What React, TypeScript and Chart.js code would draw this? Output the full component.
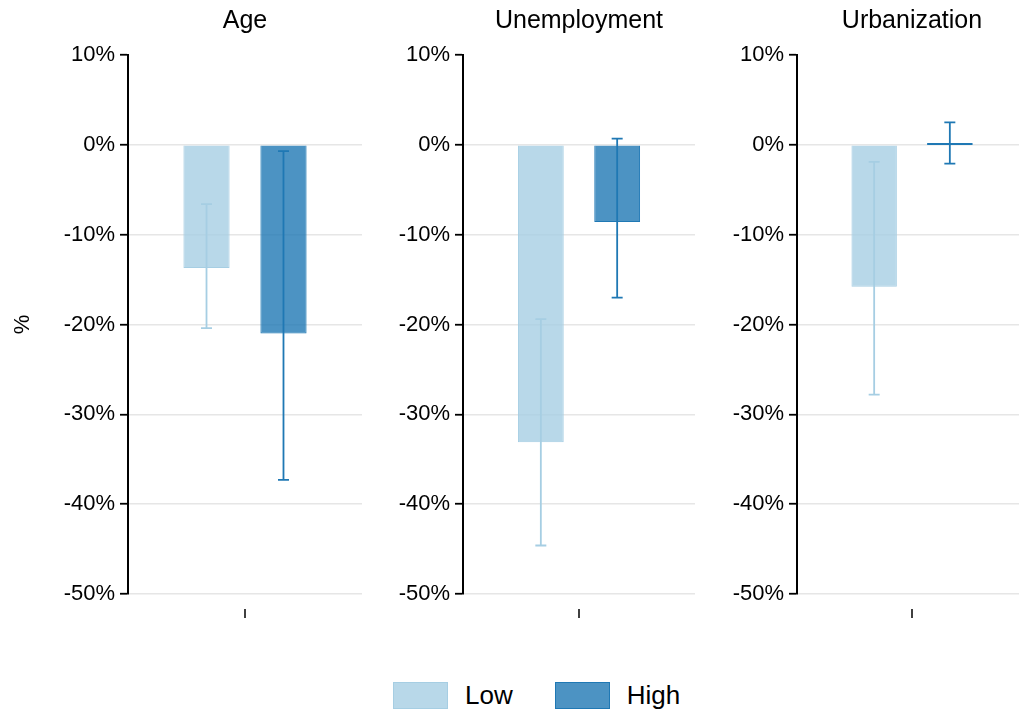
import React, { useEffect, useRef } from 'react';
import { Chart, registerables } from 'chart.js';

Chart.register(...registerables);

const panels = ['Age', 'Unemployment', 'Urbanization'];
const seriesNames = ['Low', 'High'];
const lowValues = [-13.7, -33.1, -15.8];
const highValues = [-21.0, -8.6, 0.1];
const lowErrLower = [-20.4, -44.6, -27.8];
const lowErrUpper = [-6.6, -19.4, -1.9];
const highErrLower = [-37.3, -17.0, -2.1];
const highErrUpper = [-0.7, 0.7, 2.5];
const yMin = -50;
const yMax = 10;
const yStep = 10;

const fills = ['rgba(166,206,227,0.8)', 'rgba(31,120,180,0.8)'];
const lines = ['#a6cee3', '#1f78b4'];
const FONT = '"Liberation Sans", Arial, sans-serif';

const CANVAS_H = 640;
const PLOT_BOTTOM = 594;
const AXIS_W = 128;
const panelLefts = [0, 335, 669];
const panelWidths = [362, 360, 358];

const errorBarPlugin = {
  id: 'errorBars',
  afterDatasetsDraw(chart: any) {
    const ctx = chart.ctx;
    const yScale = chart.scales.y;
    chart.data.datasets.forEach((ds: any, i: number) => {
      const meta = chart.getDatasetMeta(i);
      meta.data.forEach((el: any, j: number) => {
        if (Math.abs(el.base - el.y) < 3) {
          ctx.save();
          ctx.strokeStyle = ds.errColor;
          ctx.lineWidth = 2;
          ctx.beginPath();
          ctx.moveTo(el.x - el.width / 2, el.y);
          ctx.lineTo(el.x + el.width / 2, el.y);
          ctx.stroke();
          ctx.restore();
        }
        const lo = yScale.getPixelForValue(ds.errLower[j]);
        const hi = yScale.getPixelForValue(ds.errUpper[j]);
        ctx.save();
        ctx.strokeStyle = ds.errColor;
        ctx.lineWidth = 1.8;
        ctx.beginPath();
        ctx.moveTo(el.x, lo);
        ctx.lineTo(el.x, hi);
        ctx.moveTo(el.x - 5.5, lo);
        ctx.lineTo(el.x + 5.5, lo);
        ctx.moveTo(el.x - 5.5, hi);
        ctx.lineTo(el.x + 5.5, hi);
        ctx.stroke();
        ctx.restore();
      });
    });
  },
};

const xTickPlugin = {
  id: 'xTick',
  afterDraw(chart: any) {
    const ctx = chart.ctx;
    const x = chart.scales.x.getPixelForValue(0);
    const b = chart.chartArea.bottom;
    ctx.save();
    ctx.strokeStyle = '#000';
    ctx.lineWidth = 1.5;
    ctx.beginPath();
    ctx.moveTo(x, b + 15);
    ctx.lineTo(x, b + 24);
    ctx.stroke();
    ctx.restore();
  },
};

function Panel({ idx }: { idx: number }) {
  const ref = useRef<HTMLCanvasElement>(null);
  useEffect(() => {
    if (!ref.current) return;
    const chart = new Chart(ref.current, {
      type: 'bar',
      data: {
        labels: [''],
        datasets: [
          {
            label: seriesNames[0],
            data: [lowValues[idx]],
            backgroundColor: fills[0],
            borderColor: lines[0],
            borderWidth: 1,
            errLower: [lowErrLower[idx]],
            errUpper: [lowErrUpper[idx]],
            errColor: lines[0],
          } as any,
          {
            label: seriesNames[1],
            data: [highValues[idx]],
            backgroundColor: fills[1],
            borderColor: lines[1],
            borderWidth: 1,
            errLower: [highErrLower[idx]],
            errUpper: [highErrUpper[idx]],
            errColor: lines[1],
          } as any,
        ],
      },
      options: {
        responsive: false,
        animation: false,
        devicePixelRatio: 1,
        categoryPercentage: 0.658,
        barPercentage: 0.6,
        layout: { padding: { bottom: CANVAS_H - PLOT_BOTTOM, right: 0 } },
        font: { family: FONT },
        plugins: {
          legend: { display: false },
          tooltip: { enabled: false },
          title: {
            display: true,
            text: panels[idx],
            color: '#000',
            fullSize: false,
            font: { family: FONT, size: 25, weight: 'normal' },
            padding: { top: 6, bottom: 19 },
          },
        },
        scales: {
          x: { display: false },
          y: {
            min: yMin,
            max: yMax,
            afterFit: (s: any) => {
              s.width = AXIS_W;
            },
            border: { display: true, color: '#000', width: 2 },
            grid: {
              color: (c: any) => (c.tick && c.tick.value === yMax ? 'rgba(0,0,0,0)' : '#e6e6e6'),
              lineWidth: 1.5,
              tickColor: '#000',
              tickLength: 8,
              tickWidth: 1.8,
            },
            ticks: {
              stepSize: yStep,
              color: '#000',
              padding: 5,
              font: { family: FONT, size: 22 },
              callback: (v: any) => v + '%',
            },
            title: {
              display: idx === 0,
              text: '%',
              color: '#000',
              font: { family: FONT, size: 22 },
              padding: { top: 10, bottom: 0 },
            },
          },
        },
      } as any,
      plugins: [errorBarPlugin, xTickPlugin],
    });
    return () => chart.destroy();
  }, [idx]);
  return (
    <canvas
      ref={ref}
      width={panelWidths[idx]}
      height={CANVAS_H}
      style={{
        position: 'absolute',
        left: panelLefts[idx],
        top: 0,
        width: panelWidths[idx],
        height: CANVAS_H,
      }}
    />
  );
}

export default function App() {
  return (
    <div
      style={{
        position: 'absolute',
        left: 0,
        top: 0,
        width: 1019,
        height: 711,
        overflow: 'hidden',
        background: '#fff',
      }}
    >
      {panels.map((_, i) => (
        <Panel key={i} idx={i} />
      ))}
      <div
        style={{
          position: 'absolute',
          left: 393,
          top: 682,
          height: 27,
          display: 'flex',
          alignItems: 'center',
          fontFamily: FONT,
          fontSize: 26,
          color: '#000',
        }}
      >
        {seriesNames.map((n, i) => (
          <div key={n} style={{ display: 'flex', alignItems: 'center', marginRight: i === 0 ? 42 : 0 }}>
            <div
              style={{
                width: 53,
                height: 25,
                background: fills[i],
                border: '1px solid ' + lines[i],
                marginRight: 17,
              }}
            />
            <span style={{ lineHeight: '27px' }}>{n}</span>
          </div>
        ))}
      </div>
    </div>
  );
}
